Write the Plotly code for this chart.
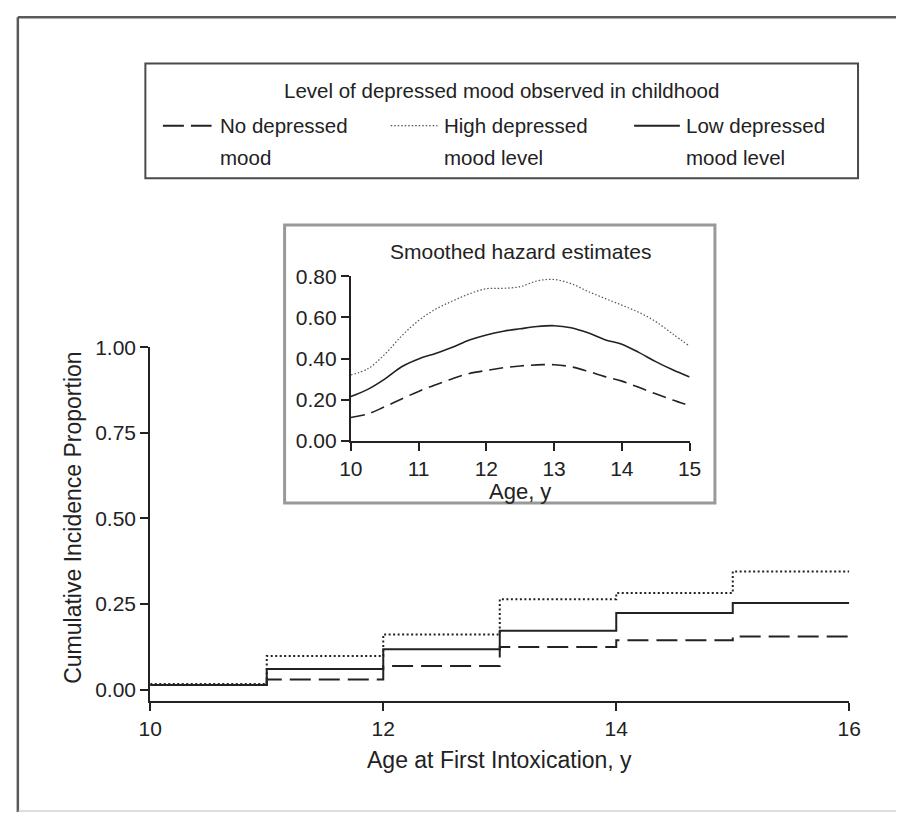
import plotly.graph_objects as go

W, H = 908, 823

# ---------------- data ----------------
step_ages = [10, 11, 12, 13, 14, 15, 16]
cum_high = [0.016, 0.098, 0.161, 0.264, 0.282, 0.345, 0.345]
cum_low = [0.013, 0.060, 0.118, 0.172, 0.224, 0.253, 0.253]
cum_none = [0.013, 0.029, 0.069, 0.124, 0.144, 0.155, 0.155]

haz_ages = [10.0, 10.25, 10.5, 10.75, 11.0, 11.25, 11.5, 11.75, 12.0, 12.25, 12.5,
            12.75, 13.0, 13.25, 13.5, 13.75, 14.0, 14.25, 14.5, 14.75, 15.0]
haz_high = [0.32, 0.35, 0.42, 0.51, 0.585, 0.64, 0.68, 0.715, 0.74, 0.742, 0.75,
            0.778, 0.785, 0.765, 0.727, 0.693, 0.66, 0.625, 0.58, 0.52, 0.46]
haz_low = [0.215, 0.25, 0.30, 0.36, 0.398, 0.425, 0.455, 0.49, 0.515, 0.533, 0.545,
           0.556, 0.56, 0.55, 0.525, 0.492, 0.47, 0.43, 0.385, 0.345, 0.31]
haz_none = [0.113, 0.13, 0.165, 0.203, 0.24, 0.272, 0.302, 0.327, 0.342, 0.355, 0.364,
            0.369, 0.37, 0.36, 0.338, 0.312, 0.29, 0.26, 0.228, 0.198, 0.17]

main_xticks = [10, 12, 14, 16]
main_yticks = [0.0, 0.25, 0.5, 0.75, 1.0]
inset_xticks = [10, 11, 12, 13, 14, 15]
inset_yticks = [0.0, 0.2, 0.4, 0.6, 0.8]

legend_title = "Level of depressed mood observed in childhood"
legend_line1 = ["No depressed", "High depressed", "Low depressed"]
legend_line2 = ["mood", "mood level", "mood level"]

FONT = "Liberation Sans, Arial, Helvetica, sans-serif"
INK = "#222222"


def px(x):
    return x / W


def py(y):
    return 1 - y / H


fig = go.Figure()

# main step curves
fig.add_trace(go.Scatter(x=step_ages, y=cum_none, mode="lines", line_shape="hv",
                         name="No depressed mood",
                         line=dict(color=INK, width=2, dash="21px,8px")))
fig.add_trace(go.Scatter(x=step_ages, y=cum_low, mode="lines", line_shape="hv",
                         name="Low depressed mood level",
                         line=dict(color=INK, width=2)))
fig.add_trace(go.Scatter(x=step_ages, y=cum_high, mode="lines", line_shape="hv",
                         name="High depressed mood level",
                         line=dict(color=INK, width=2, dash="2px,2.5px")))

# inset hazard curves
fig.add_trace(go.Scatter(x=haz_ages, y=haz_none, mode="lines", line_shape="spline",
                         xaxis="x2", yaxis="y2", name="No depressed mood",
                         line=dict(color=INK, width=1.6, dash="14px,7px")))
fig.add_trace(go.Scatter(x=haz_ages, y=haz_low, mode="lines", line_shape="spline",
                         xaxis="x2", yaxis="y2", name="Low depressed mood level",
                         line=dict(color=INK, width=1.6)))
fig.add_trace(go.Scatter(x=haz_ages, y=haz_high, mode="lines", line_shape="spline",
                         xaxis="x2", yaxis="y2", name="High depressed mood level",
                         line=dict(color="#555555", width=1.2, dash="1.5px,2px")))

axis_common = dict(showline=True, linecolor=INK, linewidth=2, ticks="outside",
                   ticklen=8, tickwidth=2, tickcolor=INK, showgrid=False, zeroline=False,
                   tickfont=dict(family=FONT, size=21, color=INK), fixedrange=True)

fig.update_layout(
    width=W, height=H, autosize=False,
    margin=dict(l=0, r=0, t=0, b=0),
    paper_bgcolor="white", plot_bgcolor="rgba(0,0,0,0)",
    showlegend=False,
    xaxis=dict(domain=[px(142), px(860)], range=[10, 16], tickvals=main_xticks,
               anchor="y", **axis_common),
    yaxis=dict(domain=[py(709), py(345)], range=[-0.0341, 1.0], tickvals=main_yticks,
               tickformat=".2f", anchor="x", **axis_common),
    xaxis2=dict(domain=[px(348), px(696)], range=[10, 15], tickvals=inset_xticks,
                anchor="y2", **axis_common),
    yaxis2=dict(domain=[py(441), py(272)], range=[0, 0.8], tickvals=inset_yticks,
                tickformat=".2f", anchor="x2", **axis_common),
)

shapes = []
# outer frame
shapes.append(dict(type="line", xref="paper", yref="paper", x0=px(6), x1=px(6), y0=py(823), y1=py(5.5),
                   line=dict(color="#5a5a5a", width=2.5)))
shapes.append(dict(type="line", xref="paper", yref="paper", x0=px(6), x1=px(908), y0=py(5.5), y1=py(5.5),
                   line=dict(color="#5a5a5a", width=2.5)))
shapes.append(dict(type="line", xref="paper", yref="paper", x0=px(6), x1=px(908), y0=py(822), y1=py(822),
                   line=dict(color="#bbbbbb", width=1)))
# legend box
shapes.append(dict(type="rect", xref="paper", yref="paper", x0=px(137), x1=px(869), y0=py(171), y1=py(53),
                   line=dict(color="#4a4a4a", width=2), layer="below"))
# inset box
shapes.append(dict(type="rect", xref="paper", yref="paper", x0=px(280), x1=px(722), y0=py(505), y1=py(219),
                   line=dict(color="#999999", width=3), fillcolor="white", layer="below"))
# legend samples
sample_y = 117
shapes.append(dict(type="line", xref="paper", yref="paper", x0=px(155), x1=px(205), y0=py(sample_y), y1=py(sample_y),
                   line=dict(color=INK, width=2, dash="21px,7px")))
shapes.append(dict(type="line", xref="paper", yref="paper", x0=px(389), x1=px(437), y0=py(sample_y), y1=py(sample_y),
                   line=dict(color=INK, width=1.2, dash="1.5px,2px")))
shapes.append(dict(type="line", xref="paper", yref="paper", x0=px(639), x1=px(686), y0=py(sample_y), y1=py(sample_y),
                   line=dict(color=INK, width=2)))
fig.update_layout(shapes=shapes)

ann = []


def text(x, y, s, size=21, xanchor="center", yanchor="middle", angle=0, align="center"):
    ann.append(dict(xref="paper", yref="paper", x=px(x), y=py(y), text=s, showarrow=False,
                    xanchor=xanchor, yanchor=yanchor, textangle=angle, align=align,
                    font=dict(family=FONT, size=size, color=INK)))


text(503, 81, legend_title, size=20.5)
for xs, l1, l2 in zip([212, 442, 690], legend_line1, legend_line2):
    text(xs, 117, l1, size=20.5, xanchor="left", align="left")
    text(xs, 150, l2, size=20.5, xanchor="left", align="left")
text(522, 246, "Smoothed hazard estimates")
text(522, 493, "Age, y", size=22)
text(501, 769, "Age at First Intoxication, y", size=23)
text(63, 520, "Cumulative Incidence Proportion", size=23, angle=-90)
fig.update_layout(annotations=ann)

fig.write_html("out.html")
